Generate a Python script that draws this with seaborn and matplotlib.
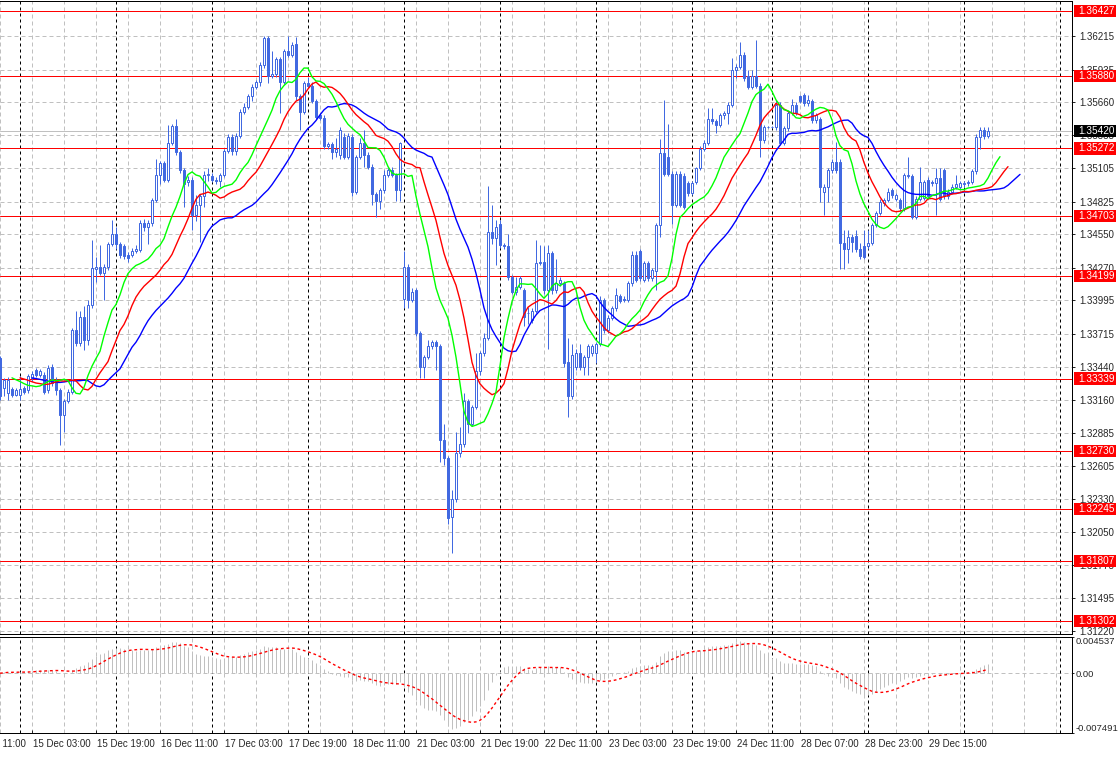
"""
GBPUSD H1 chart in the MT4 look: candles, Alligator lines, MACD sub window.
Values read off the screenshot (bars 0..247, one per hour, 14 Dec 19:00 -> 29 Dec).
"""
import numpy as np
import pandas as pd
import matplotlib.pyplot as plt
import matplotlib.transforms as mtransforms
from matplotlib.patches import Rectangle
import seaborn as sns

# = = = data = = =
opens = [
    1.3351, 1.3326, 1.3322, 1.3325, 1.3320, 1.3320, 1.3326, 1.3324, 1.3334, 1.3341,
    1.3337, 1.3337, 1.3324, 1.3344, 1.3333, 1.3324, 1.3303, 1.3315, 1.3323, 1.3375,
    1.3364, 1.3386, 1.3366, 1.3396, 1.3426, 1.3428, 1.3423, 1.3428, 1.3447, 1.3455,
    1.3447, 1.3445, 1.3438, 1.3438, 1.3441, 1.3442, 1.3465, 1.3461, 1.3465, 1.3484,
    1.3505, 1.3515, 1.3501, 1.3532, 1.3546, 1.3524, 1.3509, 1.3499, 1.3501, 1.3471,
    1.3480, 1.3487, 1.3505, 1.3504, 1.3501, 1.3500, 1.3505, 1.3525, 1.3537, 1.3525,
    1.3538, 1.3558, 1.3562, 1.3571, 1.3579, 1.3583, 1.3597, 1.3620, 1.3588, 1.3590,
    1.3602, 1.3583, 1.3609, 1.3606, 1.3615, 1.3571, 1.3558, 1.3582, 1.3580, 1.3567,
    1.3555, 1.3553, 1.3529, 1.3531, 1.3524, 1.3522, 1.3537, 1.3520, 1.3537, 1.3491,
    1.3520, 1.3532, 1.3522, 1.3512, 1.3489, 1.3483, 1.3492, 1.3505, 1.3509, 1.3505,
    1.3492, 1.3401, 1.3428, 1.3400, 1.3408, 1.3372, 1.3344, 1.3352, 1.3361, 1.3365,
    1.3361, 1.3282, 1.3267, 1.3218, 1.3233, 1.3271, 1.3279, 1.3315, 1.3296, 1.3310,
    1.3340, 1.3355, 1.3368, 1.3457, 1.3452, 1.3464, 1.3446, 1.3445, 1.3419, 1.3407,
    1.3411, 1.3408, 1.3389, 1.3383, 1.3391, 1.3431, 1.3432, 1.3408, 1.3439, 1.3408,
    1.3414, 1.3414, 1.3348, 1.3319, 1.3344, 1.3355, 1.3344, 1.3352, 1.3355, 1.3355,
    1.3363, 1.3400, 1.3375, 1.3385, 1.3393, 1.3403, 1.3401, 1.3400, 1.3414, 1.3438,
    1.3441, 1.3417, 1.3431, 1.3418, 1.3424, 1.3463, 1.3523, 1.3520, 1.3506, 1.3480,
    1.3506, 1.3504, 1.3498, 1.3490, 1.3499, 1.3511, 1.3527, 1.3532, 1.3552, 1.3550,
    1.3547, 1.3555, 1.3557, 1.3564, 1.3593, 1.3596, 1.3606, 1.3588, 1.3579, 1.3588,
    1.3580, 1.3534, 1.3545, 1.3545, 1.3545, 1.3564, 1.3532, 1.3544, 1.3557, 1.3564,
    1.3571, 1.3572, 1.3565, 1.3567, 1.3551, 1.3552, 1.3491, 1.3495, 1.3509, 1.3516,
    1.3516, 1.3448, 1.3443, 1.3453, 1.3454, 1.3443, 1.3445, 1.3445, 1.3448, 1.3463,
    1.3473, 1.3481, 1.3484, 1.3492, 1.3485, 1.3484, 1.3477, 1.3504, 1.3504, 1.3470,
    1.3485, 1.3486, 1.3501, 1.3499, 1.3498, 1.3502, 1.3509, 1.3487, 1.3491, 1.3495,
    1.3495, 1.3497, 1.3498, 1.3499, 1.3508, 1.3537, 1.3543, 1.3538,
]
highs = [
    1.3353, 1.3334, 1.3335, 1.3327, 1.3326, 1.3336, 1.3328, 1.3338, 1.3340, 1.3343,
    1.3342, 1.3339, 1.3345, 1.3346, 1.3335, 1.3326, 1.3317, 1.3325, 1.3376, 1.3391,
    1.3391, 1.3395, 1.3400, 1.3450, 1.3436, 1.3446, 1.3430, 1.3449, 1.3467, 1.3461,
    1.3449, 1.3447, 1.3440, 1.3444, 1.3446, 1.3467, 1.3468, 1.3467, 1.3486, 1.3518,
    1.3517, 1.3517, 1.3547, 1.3548, 1.3552, 1.3526, 1.3511, 1.3504, 1.3503, 1.3488,
    1.3489, 1.3508, 1.3511, 1.3507, 1.3503, 1.3507, 1.3527, 1.3539, 1.3539, 1.3540,
    1.3560, 1.3565, 1.3573, 1.3581, 1.3585, 1.3600, 1.3622, 1.3622, 1.3609, 1.3604,
    1.3604, 1.3611, 1.3622, 1.3617, 1.3621, 1.3573, 1.3584, 1.3587, 1.3583, 1.3569,
    1.3557, 1.3555, 1.3533, 1.3533, 1.3536, 1.3545, 1.3540, 1.3540, 1.3539, 1.3522,
    1.3536, 1.3543, 1.3524, 1.3514, 1.3491, 1.3494, 1.3509, 1.3511, 1.3512, 1.3507,
    1.3533, 1.3441, 1.3430, 1.3410, 1.3410, 1.3374, 1.3354, 1.3366, 1.3366, 1.3366,
    1.3363, 1.3296, 1.3269, 1.3240, 1.3289, 1.3293, 1.3322, 1.3317, 1.3312, 1.3355,
    1.3357, 1.3372, 1.3496, 1.3480, 1.3467, 1.3467, 1.3448, 1.3455, 1.3421, 1.3419,
    1.3420, 1.3410, 1.3394, 1.3393, 1.3450, 1.3446, 1.3445, 1.3446, 1.3441, 1.3434,
    1.3419, 1.3416, 1.3368, 1.3363, 1.3359, 1.3363, 1.3354, 1.3363, 1.3363, 1.3365,
    1.3403, 1.3402, 1.3387, 1.3395, 1.3410, 1.3405, 1.3403, 1.3416, 1.3441, 1.3441,
    1.3443, 1.3433, 1.3433, 1.3427, 1.3465, 1.3535, 1.3568, 1.3548, 1.3508, 1.3508,
    1.3508, 1.3507, 1.3500, 1.3500, 1.3512, 1.3529, 1.3534, 1.3561, 1.3561, 1.3552,
    1.3557, 1.3559, 1.3566, 1.3603, 1.3598, 1.3617, 1.3608, 1.3593, 1.3593, 1.3618,
    1.3582, 1.3547, 1.3546, 1.3546, 1.3568, 1.3566, 1.3546, 1.3559, 1.3569, 1.3566,
    1.3572, 1.3574, 1.3572, 1.3569, 1.3557, 1.3554, 1.3497, 1.3511, 1.3518, 1.3533,
    1.3518, 1.3459, 1.3459, 1.3455, 1.3459, 1.3448, 1.3459, 1.3459, 1.3465, 1.3475,
    1.3485, 1.3486, 1.3494, 1.3494, 1.3490, 1.3486, 1.3507, 1.3520, 1.3506, 1.3487,
    1.3512, 1.3501, 1.3503, 1.3501, 1.3511, 1.3511, 1.3511, 1.3493, 1.3497, 1.3505,
    1.3500, 1.3500, 1.3501, 1.3510, 1.3539, 1.3545, 1.3545, 1.3545,
]
lows = [
    1.3316, 1.3319, 1.3316, 1.3318, 1.3319, 1.3316, 1.3321, 1.3322, 1.3332, 1.3335,
    1.3335, 1.3321, 1.3322, 1.3328, 1.3320, 1.3278, 1.3289, 1.3313, 1.3321, 1.3361,
    1.3361, 1.3358, 1.3362, 1.3393, 1.3415, 1.3421, 1.3400, 1.3425, 1.3445, 1.3443,
    1.3435, 1.3434, 1.3432, 1.3436, 1.3439, 1.3440, 1.3458, 1.3447, 1.3462, 1.3482,
    1.3497, 1.3499, 1.3499, 1.3530, 1.3522, 1.3507, 1.3478, 1.3496, 1.3459, 1.3466,
    1.3449, 1.3478, 1.3500, 1.3499, 1.3497, 1.3495, 1.3503, 1.3523, 1.3522, 1.3522,
    1.3536, 1.3556, 1.3560, 1.3567, 1.3577, 1.3580, 1.3595, 1.3582, 1.3586, 1.3587,
    1.3557, 1.3581, 1.3604, 1.3604, 1.3568, 1.3543, 1.3556, 1.3578, 1.3565, 1.3552,
    1.3551, 1.3527, 1.3527, 1.3518, 1.3520, 1.3518, 1.3518, 1.3518, 1.3487, 1.3489,
    1.3518, 1.3512, 1.3510, 1.3480, 1.3470, 1.3476, 1.3490, 1.3503, 1.3503, 1.3483,
    1.3483, 1.3393, 1.3393, 1.3398, 1.3370, 1.3334, 1.3334, 1.3350, 1.3359, 1.3341,
    1.3264, 1.3261, 1.3212, 1.3187, 1.3230, 1.3268, 1.3276, 1.3288, 1.3294, 1.3308,
    1.3337, 1.3353, 1.3366, 1.3447, 1.3429, 1.3444, 1.3443, 1.3417, 1.3405, 1.3404,
    1.3409, 1.3378, 1.3380, 1.3381, 1.3389, 1.3429, 1.3405, 1.3359, 1.3405, 1.3406,
    1.3412, 1.3344, 1.3302, 1.3317, 1.3341, 1.3341, 1.3337, 1.3337, 1.3353, 1.3347,
    1.3361, 1.3372, 1.3372, 1.3383, 1.3391, 1.3397, 1.3398, 1.3398, 1.3412, 1.3415,
    1.3416, 1.3415, 1.3416, 1.3416, 1.3408, 1.3453, 1.3504, 1.3504, 1.3464, 1.3478,
    1.3478, 1.3476, 1.3487, 1.3488, 1.3497, 1.3509, 1.3525, 1.3530, 1.3548, 1.3540,
    1.3545, 1.3552, 1.3548, 1.3562, 1.3586, 1.3594, 1.3584, 1.3577, 1.3577, 1.3578,
    1.3520, 1.3532, 1.3544, 1.3544, 1.3543, 1.3530, 1.3530, 1.3542, 1.3555, 1.3555,
    1.3565, 1.3563, 1.3563, 1.3549, 1.3549, 1.3482, 1.3471, 1.3482, 1.3507, 1.3507,
    1.3426, 1.3426, 1.3431, 1.3440, 1.3440, 1.3434, 1.3434, 1.3443, 1.3446, 1.3461,
    1.3471, 1.3479, 1.3482, 1.3486, 1.3483, 1.3475, 1.3475, 1.3502, 1.3468, 1.3468,
    1.3483, 1.3484, 1.3485, 1.3496, 1.3471, 1.3483, 1.3485, 1.3485, 1.3489, 1.3493,
    1.3493, 1.3495, 1.3496, 1.3497, 1.3506, 1.3527, 1.3535, 1.3536,
]
closes = [
    1.3319, 1.3333, 1.3333, 1.3320, 1.3324, 1.3325, 1.3323, 1.3336, 1.3338, 1.3337,
    1.3340, 1.3323, 1.3343, 1.3330, 1.3324, 1.3303, 1.3315, 1.3323, 1.3375, 1.3364,
    1.3386, 1.3366, 1.3396, 1.3427, 1.3428, 1.3423, 1.3428, 1.3447, 1.3455, 1.3447,
    1.3438, 1.3437, 1.3435, 1.3441, 1.3443, 1.3465, 1.3461, 1.3465, 1.3484, 1.3505,
    1.3515, 1.3501, 1.3532, 1.3546, 1.3524, 1.3509, 1.3497, 1.3501, 1.3471, 1.3480,
    1.3487, 1.3505, 1.3506, 1.3501, 1.3500, 1.3505, 1.3525, 1.3537, 1.3525, 1.3538,
    1.3558, 1.3562, 1.3571, 1.3579, 1.3583, 1.3597, 1.3620, 1.3588, 1.3590, 1.3602,
    1.3583, 1.3609, 1.3606, 1.3614, 1.3571, 1.3558, 1.3582, 1.3580, 1.3567, 1.3554,
    1.3553, 1.3529, 1.3531, 1.3524, 1.3527, 1.3543, 1.3520, 1.3538, 1.3491, 1.3520,
    1.3532, 1.3522, 1.3512, 1.3489, 1.3483, 1.3492, 1.3505, 1.3509, 1.3505, 1.3492,
    1.3532, 1.3428, 1.3400, 1.3407, 1.3372, 1.3344, 1.3352, 1.3361, 1.3365, 1.3361,
    1.3282, 1.3267, 1.3217, 1.3233, 1.3271, 1.3279, 1.3315, 1.3296, 1.3310, 1.3340,
    1.3355, 1.3368, 1.3457, 1.3452, 1.3461, 1.3446, 1.3445, 1.3419, 1.3407, 1.3411,
    1.3418, 1.3386, 1.3389, 1.3391, 1.3431, 1.3432, 1.3408, 1.3439, 1.3408, 1.3414,
    1.3417, 1.3347, 1.3319, 1.3354, 1.3355, 1.3344, 1.3352, 1.3361, 1.3361, 1.3363,
    1.3400, 1.3375, 1.3385, 1.3393, 1.3404, 1.3399, 1.3400, 1.3414, 1.3438, 1.3417,
    1.3418, 1.3431, 1.3418, 1.3425, 1.3463, 1.3523, 1.3506, 1.3506, 1.3480, 1.3506,
    1.3480, 1.3478, 1.3490, 1.3498, 1.3511, 1.3527, 1.3532, 1.3552, 1.3550, 1.3547,
    1.3555, 1.3557, 1.3564, 1.3593, 1.3596, 1.3606, 1.3586, 1.3579, 1.3588, 1.3580,
    1.3534, 1.3545, 1.3545, 1.3545, 1.3564, 1.3532, 1.3544, 1.3557, 1.3564, 1.3557,
    1.3567, 1.3565, 1.3568, 1.3551, 1.3555, 1.3495, 1.3495, 1.3509, 1.3516, 1.3509,
    1.3448, 1.3443, 1.3453, 1.3449, 1.3443, 1.3437, 1.3436, 1.3448, 1.3463, 1.3473,
    1.3482, 1.3484, 1.3491, 1.3488, 1.3488, 1.3477, 1.3505, 1.3505, 1.3470, 1.3485,
    1.3499, 1.3499, 1.3487, 1.3498, 1.3502, 1.3485, 1.3487, 1.3491, 1.3495, 1.3497,
    1.3498, 1.3498, 1.3499, 1.3508, 1.3537, 1.3543, 1.3538, 1.3542,
]

# horizontal levels drawn on the chart, and the current bid
level_prices = [1.36427, 1.35880, 1.35272, 1.34703, 1.34199,
                1.33339, 1.32730, 1.32245, 1.31807, 1.31302]
bid_price = 1.35420

# right hand price scale
price_ticks = [1.36215, 1.35935, 1.35660, 1.35385, 1.35105, 1.34825, 1.34550,
               1.34270, 1.33995, 1.33715, 1.33440, 1.33160, 1.32885, 1.32605,
               1.32330, 1.32050, 1.31775, 1.31495, 1.31220]
macd_ticks = [0.004537, 0.0, -0.007491]
macd_tick_labels = ['0.004537', '0.00', '-0.007491']

# time scale: bar number of each printed time, and of each day start
time_labels = ['14 Dec 11:00', '15 Dec 03:00', '15 Dec 19:00', '16 Dec 11:00',
               '17 Dec 03:00', '17 Dec 19:00', '18 Dec 11:00', '21 Dec 03:00',
               '21 Dec 19:00', '22 Dec 11:00', '23 Dec 03:00', '23 Dec 19:00',
               '24 Dec 11:00', '28 Dec 07:00', '28 Dec 23:00', '29 Dec 15:00']
time_label_bars = [-8, 8, 24, 40, 56, 72, 88, 104, 120, 136, 152, 168, 184, 200, 216, 232]
day_start_bars = [5, 29, 53, 77, 101, 125, 149, 173, 193, 217, 241, 265]

# = = = indicators = = =
df = pd.DataFrame({'open': opens, 'high': highs, 'low': lows, 'close': closes})
df['bar'] = np.arange(len(df))
median = (df['high'] + df['low']) / 2


def smma(s, n):
    return s.ewm(alpha=1.0 / n, adjust=False).mean()


# Alligator: jaw 13/8, teeth 8/5, lips 5/3
jaw = smma(median, 13)
teeth = smma(median, 8)
lips = smma(median, 5)

# MACD 12/26/9 (MT4 style: main as histogram, SMA signal)
macd = df['close'].ewm(span=12, adjust=False).mean() - df['close'].ewm(span=26, adjust=False).mean()
signal = macd.rolling(9, min_periods=1).mean()

# = = = drawing = = =
sns.set_style("white")
plt.rcParams['font.family'] = ['Liberation Sans', 'DejaVu Sans']
plt.rcParams['font.size'] = 7

candle_blue = '#4169E1'
grid_grey = '#C0C0C0'
px = 0.72  # one pixel in points at dpi 100

fig = plt.figure(figsize=(11.2, 7.57), dpi=100)
ax = fig.add_axes([0, 0.16248, 0.95714, 0.83620])
ax2 = fig.add_axes([0, 0.03170, 0.95714, 0.12682])

xmin, xmax = 0, 268
for a in (ax, ax2):
    a.set_xlim(xmin, xmax)
    for b in range(0, xmax, 8):
        a.axvline(b, color=grid_grey, lw=px, ls=(0, (4, 3)), zorder=0)
    for b in day_start_bars:
        a.axvline(b, color='black', lw=px, ls=(0, (3, 3)), zorder=1)
    a.spines['left'].set_visible(False)
    for side in ('top', 'right', 'bottom'):
        a.spines[side].set_color('black')
        a.spines[side].set_linewidth(px)

ax.set_ylim(1.31193, 1.36511)
for p in price_ticks:
    ax.axhline(p, color=grid_grey, lw=px, ls=(0, (4, 3)), zorder=0)

# levels and bid line
for lv in level_prices:
    ax.axhline(lv, color='red', lw=px, zorder=2)
ax.axhline(bid_price, color=grid_grey, lw=px, zorder=2)

# candles
up = df['close'] >= df['open']
ax.vlines(df['bar'], df['low'], df['high'], color=candle_blue, lw=px, zorder=3)
ax.bar(df['bar'], (df['close'] - df['open']).abs(), bottom=np.minimum(df['open'], df['close']),
       width=0.55, color=np.where(up, 'white', candle_blue), edgecolor=candle_blue,
       linewidth=px, zorder=4)

# alligator lines, shifted forward
sns.lineplot(x=df['bar'] + 8, y=jaw, color='#0000FF', lw=1.0, ax=ax, zorder=5)
sns.lineplot(x=df['bar'] + 5, y=teeth, color='#FF0000', lw=1.0, ax=ax, zorder=5)
sns.lineplot(x=df['bar'] + 3, y=lips, color='#00FF00', lw=1.0, ax=ax, zorder=5)
ax.set_xlabel('')
ax.set_ylabel('')
ax.set_xticks([])

# price scale on the right
ax.yaxis.tick_right()
ax.set_yticks(price_ticks)
ax.set_yticklabels([f'{p:.5f}' for p in price_ticks])
ax.tick_params(axis='y', direction='out', length=3 * px, width=px, pad=2.9, labelsize=7)

# coloured boxes for the levels and the bid
box_tr = mtransforms.blended_transform_factory(ax.transAxes, ax.transData)
box_h = 0.00105
for lv, face in [(l, 'red') for l in level_prices] + [(bid_price, 'black')]:
    ax.add_patch(Rectangle((1.0019, lv - box_h / 2), 0.0392, box_h, transform=box_tr,
                           facecolor=face, edgecolor='none', clip_on=False, zorder=6))
    ax.text(1.0060, lv, f'{lv:.5f}', transform=box_tr, color='white', fontsize=7.2,
            ha='left', va='center', clip_on=False, zorder=7)

# MACD window
ax2.set_ylim(-0.007491, 0.004537)
ax2.axhline(0, color=grid_grey, lw=px, ls=(0, (4, 3)), zorder=0)
ax2.vlines(df['bar'], 0, macd, color=grid_grey, lw=px, zorder=2)
sns.lineplot(x=df['bar'], y=signal, color='red', lw=1.0, ls=(0, (2, 2)), ax=ax2, zorder=3)
ax2.set_xlabel('')
ax2.set_ylabel('')
ax2.yaxis.tick_right()
ax2.set_yticks(macd_ticks)
ax2.set_yticklabels(macd_tick_labels)
ax2.tick_params(axis='y', direction='out', length=2 * px, width=px, pad=1.4, labelsize=6.8)
ylabs = ax2.get_yticklabels()
ylabs[0].set_verticalalignment('top')
ylabs[2].set_verticalalignment('bottom')

# time scale
ax2.set_xticks([b for b in time_label_bars if b >= xmin])
ax2.set_xticklabels([])
ax2.tick_params(axis='x', direction='in', length=3 * px, width=px, bottom=True)
lab_tr = mtransforms.blended_transform_factory(ax2.transData, ax2.transAxes)
for b, t in zip(time_label_bars, time_labels):
    ax2.text(b + 0.3, -0.065, t, transform=lab_tr, ha='left', va='top', fontsize=7,
             clip_on=False)

fig.savefig('out.png', dpi=100)
